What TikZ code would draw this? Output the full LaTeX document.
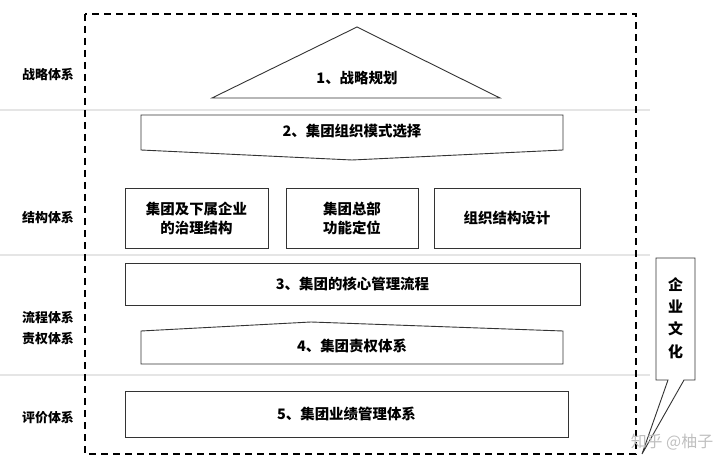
\documentclass[tikz,border=0pt]{standalone}
\usepackage{fontspec}
\setmainfont{Noto Sans CJK SC}
\begin{document}
\begin{tikzpicture}[x=1bp,y=-1bp,
  shp/.style={draw=black!80,line width=0.9bp,fill=white},
  lbl/.style={font=\bfseries\fontsize{14.5}{19}\selectfont},
  side/.style={font=\bfseries\fontsize{13}{15}\selectfont,anchor=center}]
\useasboundingbox (0,0) rectangle (720,473);
\foreach \yy in {110,255,375} \draw[black!10,line width=1.2bp] (0,\yy) -- (650,\yy);
\draw[dashed,line width=1.6bp,dash pattern=on 7bp off 5bp] (85,14) rectangle (636,454);
\node[side] (s1) at (48,75) {战略体系};
\node[side] (s2) at (48,218) {结构体系};
\node[side] (s3) at (48,318) {流程体系};
\node[side] (s4) at (48,339) {责权体系};
\node[side] (s5) at (48,418) {评价体系};
\draw[shp] (357,27) -- (500,98) -- (212,98) -- cycle;
\node[lbl] (n1) at (357,78) {1、战略规划};
\draw[shp] (141,115) -- (563,115) -- (563,150) -- (352,160) -- (141,150) -- cycle;
\node[lbl] (n2) at (352,131) {2、集团组织模式选择};
\node[shp,lbl,minimum width=143bp,minimum height=60bp,align=center] (b1) at (196.5,218) {集团及下属企业\\的治理结构};
\node[shp,lbl,minimum width=132bp,minimum height=60bp,align=center] (b2) at (352,218) {集团总部\\功能定位};
\node[shp,lbl,minimum width=146bp,minimum height=60bp] (b3) at (507,218) {组织结构设计};
\node[shp,lbl,minimum width=455bp,minimum height=42bp] (n3) at (352.5,284) {3、集团的核心管理流程};
\draw[shp] (141,331) -- (311,322) -- (563,331) -- (563,364) -- (141,364) -- cycle;
\node[lbl] (n4) at (352,346) {4、集团责权体系};
\node[shp,lbl,minimum width=443bp,minimum height=46bp] (n5) at (346.5,414) {5、集团业绩管理体系};
\draw[shp] (656,258) -- (695,258) -- (695,380) -- (684,380) -- (642,454) -- (668,380) -- (656,380) -- cycle;
\node[lbl,align=center,font=\bfseries\fontsize{15}{22.5}\selectfont] (c) at (675.5,318) {企\\业\\文\\化};
\node[text=black!25,font=\fontsize{16}{18}\selectfont] (w) at (672,442) {知乎 @柚子};
\end{tikzpicture}
\end{document}
